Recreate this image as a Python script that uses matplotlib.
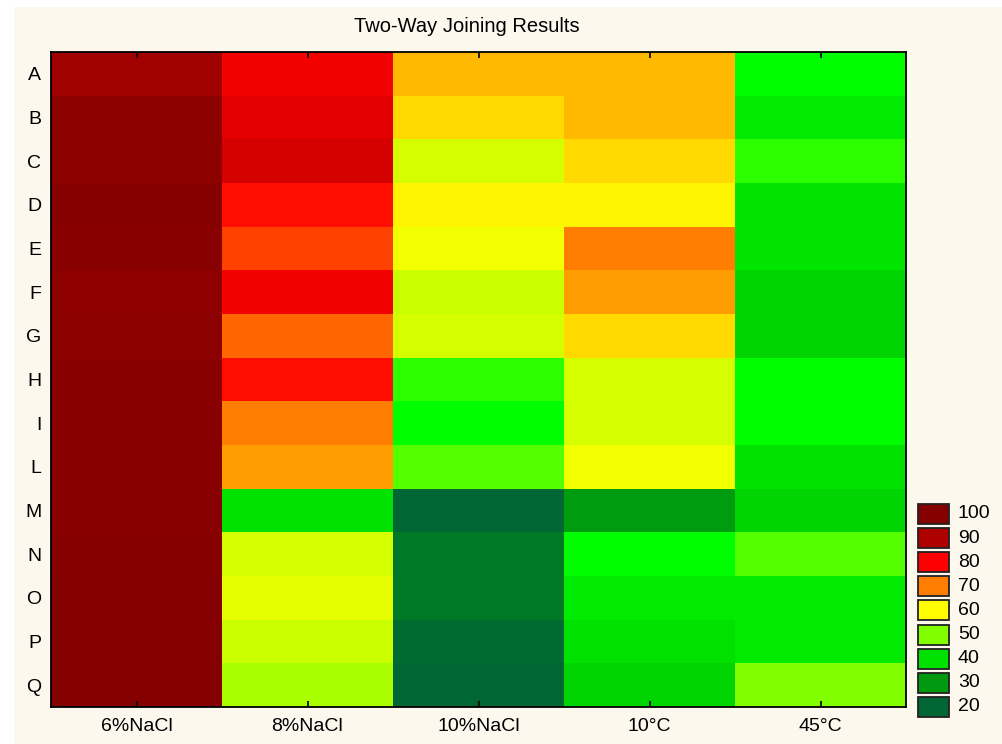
import numpy as np
import matplotlib
matplotlib.use("Agg")
import matplotlib.pyplot as plt
from matplotlib.colors import LinearSegmentedColormap
from matplotlib.patches import Rectangle

plt.rcParams['font.family'] = ['Liberation Sans', 'DejaVu Sans']

rows = ['A', 'B', 'C', 'D', 'E', 'F', 'G', 'H', 'I', 'L', 'M', 'N', 'O', 'P', 'Q']
cols = ['6%NaCl', '8%NaCl', '10%NaCl', '10°C', '45°C']

nacl6 = [93.5, 98.3, 98.3, 99.4, 98.8, 97.5, 98.3, 99.0, 99.0, 99.0, 99.2, 99.5, 100, 100, 100]
nacl8 = [81.3, 83.2, 85.2, 78.8, 74.7, 81.3, 72.0, 78.8, 70.0, 67.5, 40.0, 56.6, 58.0, 55.7, 53.3]
nacl10 = [65.4, 63.1, 56.6, 60.8, 59.0, 55.7, 56.6, 45.4, 43.0, 47.6, 20.0, 23.8, 24.0, 21.0, 20.0]
temp10 = [65.4, 65.4, 63.1, 60.8, 70.0, 67.8, 63.1, 56.6, 56.6, 59.0, 30.4, 43.0, 41.1, 40.0, 38.6]
temp45 = [43.0, 41.1, 45.4, 40.6, 40.6, 38.6, 38.6, 43.0, 43.0, 40.0, 38.6, 47.6, 41.1, 41.1, 50.0]

levels = [100, 90, 80, 70, 60, 50, 40, 30, 20]

# couleurs du spectre (valeur -> couleur)
nodes = [(20, '#006633'), (30, '#009910'), (40, '#00e000'), (43, '#00ff00'),
         (50, '#80ff00'), (60, '#ffff00'), (70, '#ff8000'), (80, '#ff0000'),
         (90, '#b00000'), (100, '#850000')]
vmin, vmax = 20, 100
cmap = LinearSegmentedColormap.from_list(
    'spectre', [((v - vmin) / (vmax - vmin), c) for v, c in nodes])

data = np.column_stack([nacl6, nacl8, nacl10, temp10, temp45])

W, H = 1003, 744
cream = '#fdf8ee'
fig = plt.figure(figsize=(W / 100, H / 100), dpi=100, facecolor='white')
fig.add_artist(Rectangle((14 / W, 0), 1, (H - 7) / H, transform=fig.transFigure,
                         facecolor=cream, edgecolor='none', zorder=-10))

ax = fig.add_axes([51 / W, 1 - 707 / H, (906 - 51) / W, (707 - 52) / H])
ax.pcolormesh(data, cmap=cmap, vmin=vmin, vmax=vmax)
ax.set_xlim(0, len(cols))
ax.set_ylim(len(rows), 0)

ax.set_xticks(np.arange(len(cols)) + 0.5)
ax.set_xticklabels(cols, fontsize=14)
ax.set_yticks(np.arange(len(rows)) + 0.5)
ax.set_yticklabels(rows, fontsize=14)
ax.tick_params(axis='x', direction='in', length=4, width=1.2, top=True, bottom=True, pad=8)
ax.tick_params(axis='y', which='major', length=0, pad=7)
ax.set_yticks(np.arange(1, len(rows), 2) + 0.5, minor=True)
ax.tick_params(axis='y', which='minor', direction='in', length=4, width=1.2,
               left=True, right=True)
for s in ax.spines.values():
    s.set_linewidth(1.3)
    s.set_color('black')

fig.text(467 / W, 1 - 27 / H, 'Two-Way Joining Results', ha='center', va='center',
         fontsize=14.5)

# légende
for i, lev in enumerate(levels):
    top = 504 + i * 24.1
    fig.add_artist(Rectangle((918 / W, 1 - (top + 20) / H), 31 / W, 20 / H,
                             transform=fig.transFigure, facecolor=cmap((lev - vmin) / (vmax - vmin)),
                             edgecolor='#222222', linewidth=1.3))
    fig.text(958 / W, 1 - (top + 10) / H, str(lev), ha='left', va='center', fontsize=14)

fig.savefig('out.png', dpi=100, facecolor=fig.get_facecolor())
